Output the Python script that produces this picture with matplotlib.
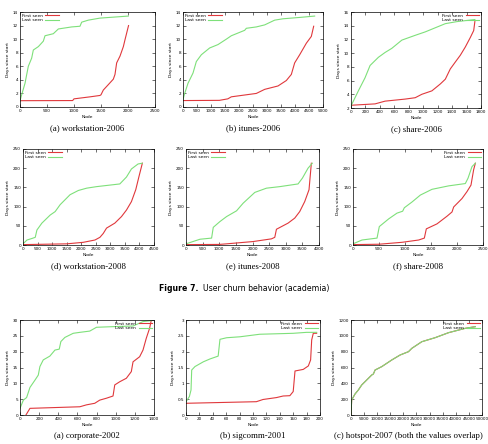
import matplotlib
matplotlib.use("Agg")
import matplotlib.pyplot as plt

# Colours (gnuplot style, antialiased)
RED = "#e0383c"
GREEN = "#7ee07a"

# ---- (a) workstation-2006
ws06_first_x = [0, 975, 1000, 1100, 1300, 1480, 1500, 1543, 1636, 1728, 1759, 1790, 1852, 1914, 1944, 2010]
ws06_first_y = [0.93, 0.95, 1.2, 1.3, 1.5, 1.7, 1.8, 2.5, 3.3, 4.1, 4.8, 6.5, 7.5, 8.9, 9.9, 12.0]
ws06_last_x = [0, 20, 93, 154, 216, 247, 340, 432, 463, 617, 710, 957, 1111, 1142, 1265, 1481, 2006]
ws06_last_y = [0.9, 1.5, 3.5, 6.0, 7.2, 8.4, 8.9, 9.7, 10.5, 10.8, 11.5, 11.8, 11.9, 12.5, 12.8, 13.1, 13.4]

# ---- (b) itunes-2006
it06_first_x = [0, 1300, 1600, 1726, 2619, 2917, 3393, 3690, 3869, 3988, 4167, 4405, 4583, 4667]
it06_first_y = [0.95, 0.98, 1.2, 1.5, 2.0, 2.6, 3.1, 3.9, 4.8, 6.5, 7.7, 9.4, 10.4, 11.9]
it06_last_x = [0, 60, 179, 357, 476, 655, 952, 1250, 1548, 1726, 2202, 2262, 2619, 2917, 3274, 3571, 4167, 4702]
it06_last_y = [1.1, 2.0, 3.5, 5.0, 6.7, 7.7, 8.7, 9.2, 10.0, 10.5, 11.3, 11.6, 11.8, 12.1, 12.8, 13.0, 13.2, 13.4]

# ---- (c) share-2006
sh06_first_x = [0, 333, 472, 750, 889, 981, 1120, 1236, 1306, 1375, 1444, 1514, 1583, 1653, 1699, 1715]
sh06_first_y = [2.4, 2.6, 3.0, 3.3, 3.5, 4.0, 4.5, 5.5, 6.2, 7.7, 8.7, 9.7, 10.9, 12.3, 13.3, 14.6]
sh06_last_x = [0, 102, 194, 264, 380, 472, 565, 704, 889, 1028, 1167, 1306, 1468, 1715]
sh06_last_y = [2.3, 4.5, 6.4, 8.2, 9.4, 10.1, 10.7, 11.9, 12.6, 13.1, 13.7, 14.3, 14.6, 14.9]

# ---- (d) workstation-2008
ws08_first_x = [0, 1500, 2073, 2472, 2642, 2756, 2870, 3155, 3383, 3554, 3725, 3873, 3986, 4100]
ws08_first_y = [1, 3, 7, 13, 20, 30, 44, 57, 74, 91, 113, 144, 179, 213]
ws08_last_x = [0, 137, 307, 421, 478, 649, 934, 1105, 1276, 1617, 1902, 2187, 2528, 3326, 3554, 3725, 3952, 4100]
ws08_last_y = [3, 13, 17, 20, 39, 57, 78, 87, 105, 131, 142, 148, 152, 159, 177, 198, 211, 213]

# ---- (e) itunes-2008
it08_first_x = [0, 1000, 1220, 2020, 2570, 2670, 2720, 3070, 3270, 3420, 3570, 3700, 3770]
it08_first_y = [1, 1.5, 3, 9, 16, 20, 41, 57, 70, 87, 113, 144, 213]
it08_last_x = [0, 420, 770, 820, 1020, 1220, 1520, 1720, 2070, 2420, 2820, 3370, 3500, 3670, 3800]
it08_last_y = [3, 15, 18, 46, 61, 74, 89, 109, 137, 148, 152, 159, 174, 200, 213]

# ---- (f) share-2008
sh08_first_x = [0, 500, 942, 1263, 1372, 1410, 1615, 1808, 1904, 1936, 2096, 2192, 2269, 2320, 2353]
sh08_first_y = [1, 2, 7, 13, 18, 42, 55, 75, 86, 99, 121, 139, 156, 196, 213]
sh08_last_x = [0, 173, 462, 506, 686, 846, 955, 987, 1135, 1295, 1519, 1840, 2160, 2212, 2288, 2353]
sh08_last_y = [3, 13, 18, 48, 68, 83, 88, 97, 112, 130, 145, 154, 160, 174, 204, 213]

# ---- (g) corporate-2002
co02_first_x = [62, 104, 625, 694, 781, 833, 903, 972, 990, 1042, 1111, 1163, 1181, 1250, 1285, 1319, 1354, 1372]
co02_first_y = [0, 2.1, 2.6, 3.2, 3.7, 4.7, 5.3, 6.0, 9.5, 10.5, 11.6, 13.7, 16.8, 18.4, 20.5, 24.2, 27.4, 30]
co02_last_x = [0, 35, 69, 104, 156, 191, 208, 243, 312, 365, 410, 427, 469, 556, 625, 729, 799, 972, 1181, 1285, 1372]
co02_last_y = [2.1, 4.7, 5.5, 8.7, 11, 12.6, 15.3, 17.4, 18.6, 20.5, 20.8, 23.2, 24.5, 25.8, 26.1, 26.5, 27.7, 27.9, 28.1, 29.5, 29.8]

# ---- (h) sigcomm-2001
sg01_first_x = [0, 105, 115, 135, 145, 155, 160, 162.7, 175, 182.6, 186, 187.6, 190, 195]
sg01_first_y = [0.37, 0.42, 0.49, 0.55, 0.60, 0.61, 0.74, 1.39, 1.44, 1.55, 1.74, 2.37, 2.58, 2.58]
sg01_last_x = [0, 5, 7.5, 8.5, 13.4, 25.9, 35.8, 48, 50.7, 60.7, 80.6, 110, 160, 180, 195]
sg01_last_y = [0.42, 0.58, 0.79, 1.42, 1.53, 1.68, 1.77, 1.86, 2.39, 2.44, 2.47, 2.55, 2.58, 2.61, 2.61]

# ---- (i) hotspot-2007 (both series overlap)
hs07_x = [0, 255, 1530, 2806, 4082, 5995, 7908, 8545, 9184, 11735, 15561, 18750, 21939, 23214, 27041, 32143, 37245, 43622, 47449]
hs07_y = [0, 189, 265, 316, 379, 442, 505, 518, 568, 611, 695, 758, 800, 842, 926, 977, 1040, 1095, 1116]

W, H = 489, 444
fig = plt.figure(figsize=(W / 100, H / 100), dpi=100)


def panel(box, first, last, xlim, xstep, ylim, ystep, caption, loc, yfmt=None, cap_x=None):
    l, t, r, b = box
    ax = fig.add_axes([l / W, 1 - b / H, (r - l) / W, (b - t) / H])
    ax.plot(first[0], first[1], color=RED, lw=0.8, label="First seen")
    ax.plot(last[0], last[1], color=GREEN, lw=0.8, label="Last seen")
    ax.set_xlim(*xlim)
    ax.set_ylim(*ylim)
    xt = [xlim[0] + i * xstep for i in range(int(round((xlim[1] - xlim[0]) / xstep)) + 1)]
    yt = [ylim[0] + i * ystep for i in range(int(round((ylim[1] - ylim[0]) / ystep)) + 1)]
    ax.set_xticks(xt)
    ax.set_yticks(yt)
    if yfmt:
        ax.set_yticklabels([yfmt(v) for v in yt])
    ax.tick_params(direction="in", top=True, right=True, labelsize=3, length=2, width=0.4, pad=1.5)
    for s in ax.spines.values():
        s.set_linewidth(0.5)
    ax.set_xlabel("Node", fontsize=3.2, labelpad=1.5)
    ax.set_ylabel("Days since start", fontsize=3.2, labelpad=2)
    ax.legend(loc=loc, fontsize=3.2, frameon=False, markerfirst=False, handlelength=3,
              borderaxespad=0.2, labelspacing=0.1, handletextpad=0.6, borderpad=0.2)
    cx = (l + r) / 2 if cap_x is None else cap_x
    fig.text(cx / W, 1 - (b + 21) / H, caption, ha="center", va="center",
             fontsize=6.3, family="Liberation Serif")
    return ax


panel((20, 12, 155, 107), (ws06_first_x, ws06_first_y), (ws06_last_x, ws06_last_y),
      (0, 2500), 500, (0, 14), 2, "(a) workstation-2006", "upper left")
panel((183, 12, 323, 107), (it06_first_x, it06_first_y), (it06_last_x, it06_last_y),
      (0, 5000), 500, (0, 14), 2, "(b) itunes-2006", "upper left")
panel((351, 12, 481, 108), (sh06_first_x, sh06_first_y), (sh06_last_x, sh06_last_y),
      (0, 1800), 200, (2, 16), 2, "(c) share-2006", "upper right")

panel((23, 149, 154, 245), (ws08_first_x, ws08_first_y), (ws08_last_x, ws08_last_y),
      (0, 4500), 500, (0, 250), 50, "(d) workstation-2008", "upper left")
panel((186, 149, 319, 245), (it08_first_x, it08_first_y), (it08_last_x, it08_last_y),
      (0, 4000), 500, (0, 250), 50, "(e) itunes-2008", "upper left")
panel((353, 149, 483, 245), (sh08_first_x, sh08_first_y), (sh08_last_x, sh08_last_y),
      (0, 2500), 500, (0, 250), 50, "(f) share-2008", "upper right")

# figure caption: bold label + regular text
fig.text(199 / W, 1 - 288 / H, "Figure 7.", ha="right", va="center",
         fontsize=5.6, family="DejaVu Sans", weight="bold")
fig.text(203 / W, 1 - 288 / H, "User churn behavior (academia)", ha="left",
         va="center", fontsize=5.6, family="DejaVu Sans")

panel((20, 320, 154, 415), (co02_first_x, co02_first_y), (co02_last_x, co02_last_y),
      (0, 1400), 200, (0, 30), 5, "(a) corporate-2002", "upper right")
panel((186, 320, 320, 415), (sg01_first_x, sg01_first_y), (sg01_last_x, sg01_last_y),
      (0, 200), 20, (0, 3), 0.5, "(b) sigcomm-2001", "upper right",
      yfmt=lambda v: ("%g" % v))
panel((351, 320, 482, 415), (hs07_x, hs07_y), (hs07_x, hs07_y),
      (0, 50000), 5000, (0, 1200), 200, "(c) hotspot-2007 (both the values overlap)", "upper right",
      cap_x=408)

fig.savefig("out.png", dpi=100)
